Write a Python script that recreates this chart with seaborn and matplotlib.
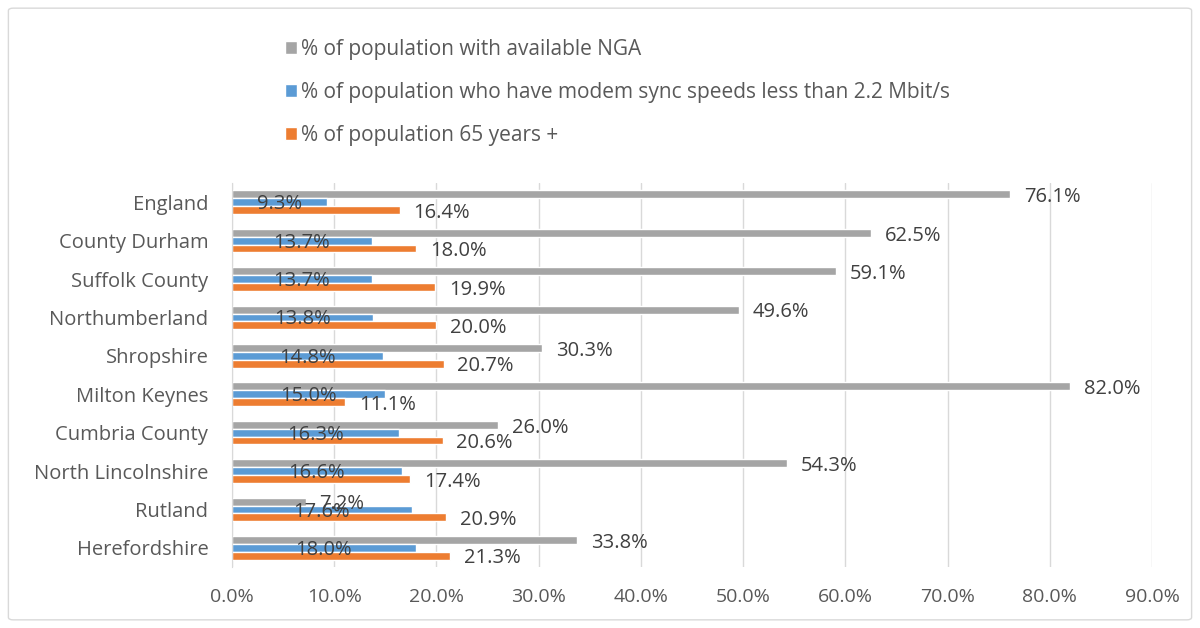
import pandas as pd
import matplotlib.pyplot as plt
import seaborn as sns
from matplotlib.patches import FancyBboxPatch
from matplotlib.ticker import FuncFormatter

# chart data
areas = ["England", "County Durham", "Suffolk County", "Northumberland", "Shropshire",
         "Milton Keynes", "Cumbria County", "North Lincolnshire", "Rutland", "Herefordshire"]
nga = [76.1, 62.5, 59.1, 49.6, 30.3, 82.0, 26.0, 54.3, 7.2, 33.8]
slow_sync = [9.3, 13.7, 13.7, 13.8, 14.8, 15.0, 16.3, 16.6, 17.6, 18.0]
over_65 = [16.4, 18.0, 19.9, 20.0, 20.7, 11.1, 20.6, 17.4, 20.9, 21.3]
series = ["% of population with available NGA",
          "% of population who have modem sync speeds less than 2.2 Mbit/s",
          "% of population 65 years +"]
colors = ["#A5A5A5", "#5B9BD5", "#ED7D31"]
x_ticks = [0, 10, 20, 30, 40, 50, 60, 70, 80, 90]

df = pd.DataFrame({"area": areas * 3,
                   "series": [series[0]] * 10 + [series[1]] * 10 + [series[2]] * 10,
                   "value": nga + slow_sync + over_65})

sns.set_style("white")
plt.rcParams["font.family"] = ["Open Sans", "DejaVu Sans"]
text_col = "#404040"
tick_col = "#595959"

fig = plt.figure(figsize=(12, 6.28), dpi=100)
ax = fig.add_axes([0.1933, 0.0971, 0.7667, 0.6115])

sns.barplot(data=df, y="area", x="value", hue="series", hue_order=series,
            palette=colors, orient="h", width=0.61, gap=0, saturation=1,
            ax=ax, legend=True)

ax.set_xlim(0, 90)
ax.set_xticks(x_ticks)
ax.xaxis.set_major_formatter(FuncFormatter(lambda v, p: f"{v:.1f}%"))
ax.grid(axis="x", color="#D9D9D9", linewidth=1)
ax.set_axisbelow(True)
ax.set_xlabel("")
ax.set_ylabel("")
for s in ["top", "right", "bottom"]:
    ax.spines[s].set_visible(False)
ax.spines["left"].set_color("#D9D9D9")
ax.tick_params(axis="both", length=0, labelcolor=tick_col)
ax.tick_params(axis="x", pad=15, labelsize=14)
ax.tick_params(axis="y", pad=17, labelsize=14.5)

# data labels
for i, cont in enumerate(ax.containers):
    for bar in cont:
        w = bar.get_width()
        yc = bar.get_y() + bar.get_height() / 2
        if i == 1:
            ax.annotate(f"{w:.1f}%", (w / 2, yc), xytext=(0, -1.5), textcoords="offset points",
                        ha="center", va="center", fontsize=14.5, color=text_col)
        else:
            ax.annotate(f"{w:.1f}%", (w, yc), xytext=(10, -2), textcoords="offset points",
                        ha="left", va="center", fontsize=14.5, color=text_col)

handles, labels = ax.get_legend_handles_labels()
ax.get_legend().remove()
fig.legend(handles, labels, loc="upper left", bbox_to_anchor=(0.222, 0.968),
           frameon=False, ncol=1, fontsize=15, labelcolor=tick_col,
           handlelength=0.55, handleheight=0.55, handletextpad=0.2, labelspacing=1.05)

# light chart-area frame
fig.patches.append(FancyBboxPatch((0.007, 0.013), 0.986, 0.974, boxstyle="round,pad=0,rounding_size=0.004",
                                  transform=fig.transFigure, fill=False, edgecolor="#D9D9D9", linewidth=1))

fig.savefig("out.png", dpi=100)
